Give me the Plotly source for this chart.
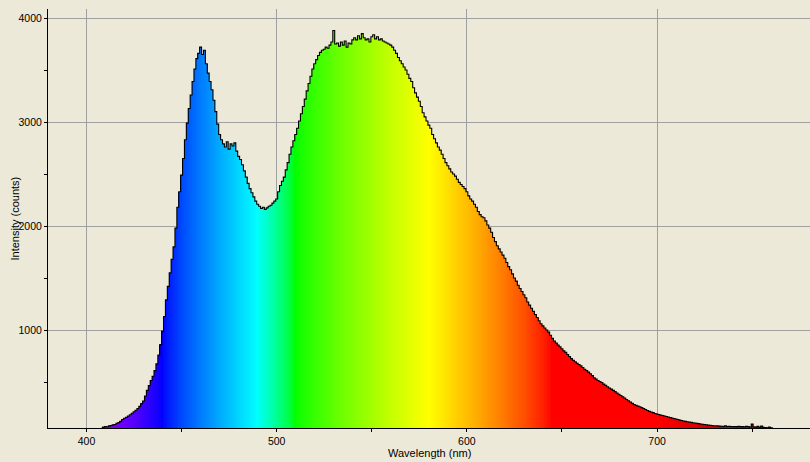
import plotly.graph_objects as go

wl_start = 408
intensity = [
    62, 66, 72, 70, 78, 82, 88, 92, 104, 110,            # 408-417
    122, 140, 152, 160, 172, 186, 200, 214, 228, 246,    # 418-427
    266, 292, 318, 365, 420, 465, 515, 555, 610, 675,    # 428-437
    760, 860, 990, 1130, 1290, 1420, 1550, 1680, 1800, 1980,  # 438-447
    2180, 2330, 2490, 2650, 2830, 2990, 3130, 3260, 3390, 3510,  # 448-457
    3610, 3660, 3720, 3650, 3690, 3560, 3470, 3390, 3310, 3210,  # 458-467
    3100, 2980, 2880, 2830, 2790, 2760, 2810, 2740, 2790, 2770,  # 468-477
    2800, 2720, 2670, 2640, 2590, 2530, 2470, 2410, 2360, 2320,  # 478-487
    2280, 2240, 2210, 2190, 2170, 2180, 2160, 2175, 2190, 2200,  # 488-497
    2220, 2240, 2260, 2330, 2390, 2430, 2470, 2540, 2610, 2690,  # 498-507
    2760, 2820, 2880, 2940, 3010, 3080, 3150, 3220, 3300, 3370,  # 508-517
    3440, 3510, 3560, 3600, 3640, 3670, 3690, 3700, 3720, 3710,  # 518-527
    3740, 3770, 3880, 3750, 3760, 3730, 3770, 3740, 3780, 3720,  # 528-537
    3760, 3750, 3790, 3810, 3790, 3830, 3800, 3850, 3810, 3790,  # 538-547
    3800, 3770, 3820, 3840, 3800, 3820, 3790, 3800, 3780, 3770,  # 548-557
    3760, 3750, 3740, 3720, 3690, 3660, 3620, 3590, 3560, 3530,  # 558-567
    3500, 3460, 3420, 3390, 3330, 3280, 3240, 3200, 3150, 3090,  # 568-577
    3050, 3010, 2970, 2940, 2880, 2840, 2800, 2760, 2730, 2690,  # 578-587
    2650, 2610, 2580, 2550, 2520, 2500, 2480, 2450, 2420, 2400,  # 588-597
    2380, 2360, 2330, 2290, 2260, 2240, 2210, 2180, 2140, 2110,  # 598-607
    2090, 2080, 2050, 2010, 1980, 1940, 1890, 1850, 1810, 1780,  # 608-617
    1750, 1720, 1690, 1650, 1610, 1580, 1540, 1500, 1470, 1430,  # 618-627
    1400, 1370, 1340, 1310, 1270, 1240, 1210, 1180, 1150, 1120,  # 628-637
    1090, 1060, 1040, 1020, 1000, 980, 950, 920, 895, 875,       # 638-647
    855, 840, 820, 800, 785, 765, 745, 725, 710, 695,            # 648-657
    680, 668, 655, 640, 622, 610, 595, 580, 562, 540,            # 658-667
    528, 515, 505, 495, 480, 468, 455, 442, 432, 420,            # 668-677
    408, 395, 383, 370, 358, 346, 332, 320, 308, 296,            # 678-687
    284, 276, 268, 262, 254, 246, 236, 226, 218, 212,            # 688-697
    206, 198, 192, 188, 182, 178, 174, 169, 164, 158,            # 698-707
    154, 149, 145, 140, 134, 130, 126, 122, 118, 115,            # 708-717
    112, 108, 106, 104, 100, 97, 94, 91, 89, 86,                 # 718-727
    84, 82, 80, 79, 78, 76, 75, 74, 80, 73,                      # 728-737
    74, 72, 73, 72, 71, 75, 72, 71, 70, 74,                      # 738-747
    72, 68, 95, 70, 66, 74, 65, 76, 64, 62,                      # 748-757
    60, 66, 60, 58,                                              # 758-761
]
wavelength = [wl_start + i for i in range(len(intensity))]

x_ticks = [400, 500, 600, 700]
y_ticks = [1000, 2000, 3000, 4000]


def wl_to_rgb(w, gamma=0.8):
    if w < 440:
        r, g, b = -(w - 440) / 60.0, 0.0, 1.0
    elif w < 490:
        r, g, b = 0.0, (w - 440) / 50.0, 1.0
    elif w < 510:
        r, g, b = 0.0, 1.0, -(w - 510) / 20.0
    elif w < 580:
        r, g, b = (w - 510) / 70.0, 1.0, 0.0
    elif w < 645:
        r, g, b = 1.0, -(w - 645) / 65.0, 0.0
    else:
        r, g, b = 1.0, 0.0, 0.0
    if w < 420:
        f = 0.3 + 0.7 * (w - 380) / 40.0
    elif w > 700:
        f = 0.3 + 0.7 * (780 - w) / 80.0
    else:
        f = 1.0
    def c(v):
        v = max(0.0, min(1.0, v))
        return int(round(255 * (v * f) ** gamma)) if v > 0 else 0
    return f"rgb({c(r)},{c(g)},{c(b)})"


colors = [wl_to_rgb(w) for w in wavelength]

BG = "#ECE9D8"
GRID = "#A0A0A0"
FONT = "Liberation Sans"

fig = go.Figure()
fig.add_trace(go.Bar(
    x=wavelength, y=intensity, width=1.3,
    marker=dict(color=colors, line=dict(width=0)),
    hoverinfo="skip", showlegend=False,
))
fig.add_trace(go.Scatter(
    x=wavelength, y=intensity, mode="lines",
    line=dict(color="black", width=1.1, shape="hvh"),
    hoverinfo="skip", showlegend=False,
))

fig.update_layout(
    width=810, height=462,
    margin=dict(l=48, r=0, t=9, b=34),
    paper_bgcolor=BG, plot_bgcolor=BG,
    bargap=0, showlegend=False,
    font=dict(family=FONT, size=10.5, color="black"),
    xaxis=dict(
        range=[379.76, 780.4], tickvals=x_ticks, ticks="outside", ticklen=3,
        tickcolor="black", showgrid=True, gridcolor=GRID, gridwidth=1,
        showline=True, linecolor="black", linewidth=1, zeroline=False,
        minor=dict(dtick=50, tick0=0, ticks="outside", ticklen=3, tickcolor="black", showgrid=False),
        tickfont=dict(family=FONT, size=10.5, color="black"),
    ),
    yaxis=dict(
        range=[58, 4087], tickvals=y_ticks, ticks="outside", ticklen=3,
        tickcolor="black", showgrid=True, gridcolor=GRID, gridwidth=1,
        showline=True, linecolor="black", linewidth=1, zeroline=False,
        minor=dict(dtick=500, tick0=0, ticks="outside", ticklen=3, tickcolor="black", showgrid=False),
        tickfont=dict(family=FONT, size=10.5, color="black"),
    ),
    annotations=[
        dict(text="Wavelength (nm)", xref="paper", yref="paper", x=0.5, y=0,
             yshift=-25, showarrow=False, xanchor="center", yanchor="middle",
             font=dict(family=FONT, size=11, color="black")),
        dict(text="Intensity (counts)", xref="paper", yref="paper", x=0, y=0.5,
             xshift=-34, textangle=-90, showarrow=False, xanchor="center", yanchor="middle",
             font=dict(family=FONT, size=11, color="black")),
    ],
)

fig.write_html(
    "out.html",
    config={"displayModeBar": False, "staticPlot": True},
    post_script="document.body.style.margin='0';document.body.style.padding='0';"
                "document.body.style.background='#ECE9D8';document.body.style.overflow='hidden';",
)
